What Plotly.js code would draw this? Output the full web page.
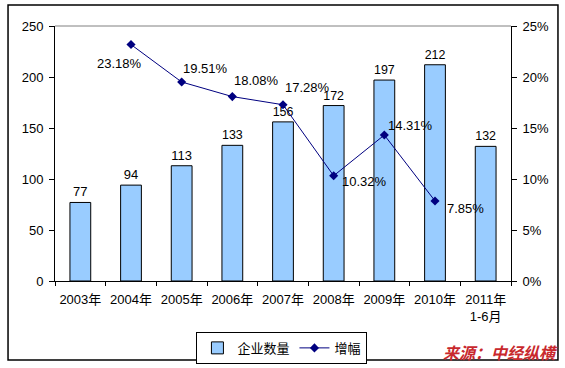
<!DOCTYPE html>
<html>
<head>
<meta charset="utf-8">
<script src="https://cdn.plot.ly/plotly-3.0.1.min.js"></script>
<style>
html,body{margin:0;padding:0;background:#fff;}
#chart{width:565px;height:368px;}
</style>
</head>
<body>
<div id="chart"></div>
<script>
const categories = ["2003年","2004年","2005年","2006年","2007年","2008年","2009年","2010年","2011年<br>1-6月"];
const companyCounts = [77, 94, 113, 133, 156, 172, 197, 212, 132];
const growthCategories = ["2004年","2005年","2006年","2007年","2008年","2009年","2010年"];
const growthRates = [0.2318, 0.1951, 0.1808, 0.1728, 0.1032, 0.1431, 0.0785];
const growthLabels = ["23.18%","19.51%","18.08%","17.28%","10.32%","14.31%","7.85%"];
const seriesNames = ["企业数量","增幅"];
const sourceText = "来源：中经纵横";

// label offsets (px) for growth labels, relative to their points
const labelShifts = [[-12,-19],[24,14],[24,16],[24,17],[31,-6],[26,10],[30,-8]];

const FONT = "Liberation Sans, Arial, Noto Sans CJK SC, sans-serif";

const bars = {
  type: "bar",
  name: seriesNames[0],
  x: categories,
  y: companyCounts,
  text: companyCounts.map(String),
  textposition: "outside",
  textfont: {family: FONT, size: 13, color: "#000"},
  cliponaxis: false,
  marker: {color: "#99CCFF", line: {color: "#000", width: 1}},
  yaxis: "y"
};
const line = {
  type: "scatter",
  mode: "lines+markers",
  name: seriesNames[1],
  x: growthCategories,
  y: growthRates,
  line: {color: "#000080", width: 1},
  marker: {symbol: "diamond", size: 7, color: "#000080"},
  yaxis: "y2",
  cliponaxis: false
};

const annotations = growthCategories.map((c, i) => ({
  x: c, y: growthRates[i], xref: "x", yref: "y2",
  text: growthLabels[i], showarrow: false,
  xshift: labelShifts[i][0], yshift: labelShifts[i][1],
  font: {family: FONT, size: 13, color: "#000"}
}));
annotations.push({
  x: 0.978, y: -0.278, xref: "paper", yref: "paper",
  xanchor: "center", yanchor: "middle",
  text: "<b><i>" + sourceText + "</i></b>", showarrow: false,
  font: {family: "Noto Sans CJK SC, sans-serif", size: 16, color: "#C8282D"}
});

const layout = {
  width: 565, height: 368,
  margin: {l: 55, r: 54, t: 26, b: 87, pad: 0, autoexpand: false},
  paper_bgcolor: "#fff", plot_bgcolor: "#fff",
  font: {family: FONT, size: 13, color: "#000"},
  bargap: 0.59,
  showlegend: true,
  legend: {
    orientation: "h", xref: "container", yref: "container",
    x: 0.499, xanchor: "center", y: 0.098, yanchor: "top",
    bordercolor: "#000", borderwidth: 1, font: {family: FONT, size: 13},
    tracegroupgap: 0
  },
  xaxis: {
    type: "category", showline: true, linecolor: "#000", linewidth: 1,
    ticks: "outside", tickson: "boundaries", ticklen: 4, tickcolor: "#000",
    showgrid: false, zeroline: false, tickfont: {family: FONT, size: 13},
    tickangle: 0, automargin: false, ticklabelstandoff: 6
  },
  yaxis: {
    range: [0, 250], dtick: 50, showline: true, linecolor: "#000", linewidth: 1,
    ticks: "outside", ticklen: 5, tickcolor: "#000", showgrid: false, zeroline: false,
    tickfont: {family: FONT, size: 13}, automargin: false, ticklabelstandoff: 3
  },
  yaxis2: {
    overlaying: "y", side: "right", range: [0, 0.25], dtick: 0.05, tickformat: ".0%",
    showline: true, linecolor: "#000", linewidth: 1,
    ticks: "outside", ticklen: 5, tickcolor: "#000", showgrid: false, zeroline: false,
    tickfont: {family: FONT, size: 13}, automargin: false, ticklabelstandoff: 3
  },
  shapes: [
    {type: "line", xref: "paper", yref: "paper", x0: 0, x1: 1, y0: 1, y1: 1,
     line: {color: "#808080", width: 1}},
    {type: "rect", xref: "paper", yref: "paper", x0: -0.103, x1: 1.103, y0: -0.31, y1: 1.0824,
     line: {color: "#000", width: 1.5}, fillcolor: "rgba(0,0,0,0)", layer: "below"}
  ],
  annotations: annotations
};

Plotly.newPlot("chart", [bars, line], layout, {displayModeBar: false, staticPlot: true});
</script>
</body>
</html>
